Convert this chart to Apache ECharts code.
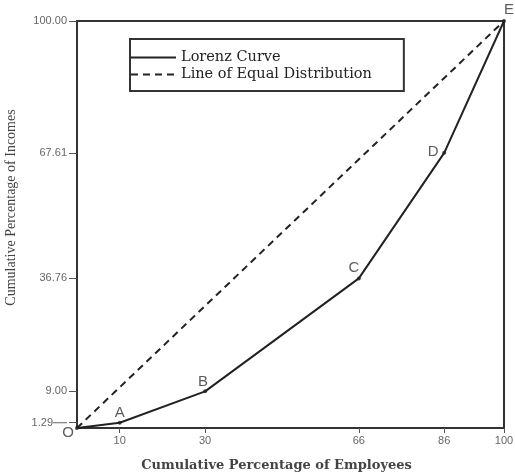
<!DOCTYPE html>
<html>
<head>
<meta charset="utf-8">
<script src="https://cdn.jsdelivr.net/npm/echarts@6/dist/echarts.min.js"></script>
<style>html,body{margin:0;padding:0;background:#fff;}#c{width:515px;height:476px;}</style>
</head>
<body>
<div id="c"></div>
<script>
// Data
const employeesPct = [0, 10, 30, 66, 86, 100];
const incomesPct = [0, 1.29, 9.00, 36.76, 67.61, 100];
const pointNames = ['O', 'A', 'B', 'C', 'D', 'E'];
const equalX = [0, 100];
const equalY = [0, 100];
const xTicks = [10, 30, 66, 86, 100];
const yTicks = [1.29, 9.00, 36.76, 67.61, 100];

const labelOffsets = {O: [-9, 5], A: [0, -10], B: [-2, -10], C: [-5, -11], D: [-11, -1], E: [5, -11]};

const lorenz = employeesPct.map((x, i) => [x, incomesPct[i]]);
const equal = equalX.map((x, i) => [x, equalY[i]]);
const pts = employeesPct.map((x, i) => ({
  name: pointNames[i],
  value: [x, incomesPct[i]],
  label: { offset: labelOffsets[pointNames[i]] }
}));

const chart = echarts.init(document.getElementById('c'));
chart.setOption({
  animation: false,
  grid: { left: 77, right: 11, top: 21, bottom: 48, show: true, borderColor: '#333', borderWidth: 2, outerBoundsMode: 'none', containLabel: false },
  legend: {
    orient: 'vertical', left: 130, top: 39,
    data: ['Lorenz Curve', 'Line of Equal Distribution'],
    itemStyle: { opacity: 0 },
    itemWidth: 45, itemHeight: 14, itemGap: 2,
    borderColor: '#333', borderWidth: 2, padding: [11, 32, 9, 0],
    textStyle: { fontFamily: 'DejaVu Serif', fontSize: 14.5, color: '#222' }
  },
  xAxis: {
    type: 'value', min: 0, max: 100,
    name: 'Cumulative Percentage of Employees', nameLocation: 'middle', nameGap: 31,
    nameTextStyle: { fontFamily: 'DejaVu Serif', fontSize: 13, fontWeight: 'bold', color: '#444', padding: [0, 28, 0, 0] },
    axisLine: { show: true, lineStyle: { color: '#333', width: 2 } },
    axisTick: { show: true, customValues: xTicks, length: 5, lineStyle: { color: '#555' } },
    axisLabel: { customValues: xTicks, margin: 7, fontFamily: 'Liberation Sans', fontSize: 11, color: '#666' },
    splitLine: { show: false }
  },
  yAxis: {
    type: 'value', min: 0, max: 100,
    name: 'Cumulative Percentage of Incomes', nameLocation: 'middle', nameGap: 59,
    nameTextStyle: { fontFamily: 'Liberation Serif', fontSize: 14, color: '#444', padding: [0, 0, 0, 34] },
    axisLine: { show: true, lineStyle: { color: '#333', width: 2 } },
    axisTick: { show: true, customValues: yTicks, length: 8, lineStyle: { color: '#555' } },
    axisLabel: {
      customValues: yTicks, margin: 10, fontFamily: 'Liberation Sans', fontSize: 11, color: '#666',
      formatter: v => Math.abs(v - 1.29) < 1e-6 ? '{t|1.29}{l|}' : v.toFixed(2),
      rich: { t: { fontFamily: 'Liberation Sans', fontSize: 11, color: '#666' }, l: { width: 14, height: 1, backgroundColor: '#666' } }
    },
    splitLine: { show: false }
  },
  series: [
    { name: 'Lorenz Curve', type: 'line', data: lorenz, symbol: 'none', lineStyle: { color: '#222', width: 2 }, itemStyle: { color: '#222' } },
    { name: 'Line of Equal Distribution', type: 'line', data: equal, symbol: 'none', lineStyle: { color: '#222', width: 2, type: [7, 5] }, itemStyle: { color: '#222' } },
    {
      name: 'points', type: 'scatter', data: pts, symbolSize: 4, itemStyle: { color: '#222' },
      label: { show: true, position: 'inside', formatter: p => p.name, fontFamily: 'Liberation Sans', fontSize: 15, color: '#333' },
      z: 5
    }
  ]
});
</script>
</body>
</html>
